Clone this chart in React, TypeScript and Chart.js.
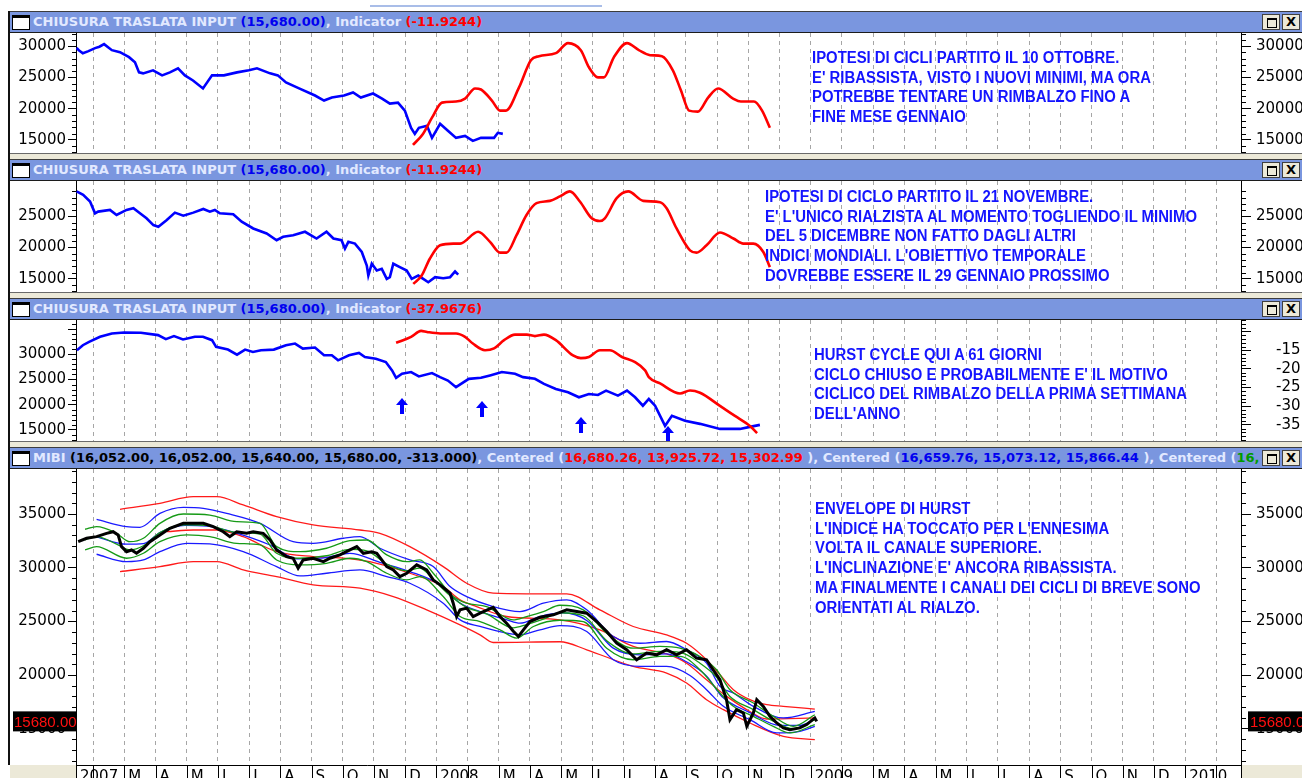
import React, { useEffect, useRef } from 'react';
import { Chart, registerables } from 'chart.js';

Chart.register(...registerables);

// ---------------- x axis: months since January 2007 ----------------
const X_MIN = 0.45;
const X_MAX = 37.79;
const MONTH_TICKS = [1, 2, 3, 4, 5, 6, 7, 8, 9, 10, 11, 12, 13, 14, 15, 16, 17, 18, 19, 20, 21, 22, 23, 24, 25, 26, 27, 28, 29, 30, 31, 32, 33, 34, 35, 36, 37];
const MONTH_LETTERS = ['', '', 'M', 'A', 'M', 'J', 'J', 'A', 'S', 'O', 'N', 'D'];
const YEAR_LABELS = ['2007', '2008', '2009', '2010'];

// ---------------- panel 1 ----------------
const P1_BLUE: [number, number][] = [[0.47, 29700], [0.54, 29350], [0.67, 28870], [0.85, 29200], [1.06, 29680], [1.2, 29900], [1.35, 30320], [1.6, 29350], [1.86, 29030], [2.15, 28230], [2.34, 27420], [2.47, 25800], [2.6, 25640], [2.92, 26130], [3.21, 25320], [3.46, 25800], [3.72, 26450], [3.94, 25320], [4.2, 24500], [4.52, 23230], [4.81, 25320], [5.19, 25320], [5.61, 25800], [5.99, 26130], [6.25, 26450], [6.67, 25640], [6.92, 25320], [7.18, 24190], [7.6, 23230], [8.11, 22100], [8.4, 21290], [8.65, 21770], [9.04, 22100], [9.33, 22580], [9.58, 21770], [9.97, 22420], [10.26, 21610], [10.51, 20800], [10.77, 20960], [10.99, 19680], [11.19, 16930], [11.31, 15960], [11.44, 16930], [11.7, 17260], [11.86, 15320], [12.12, 17580], [12.37, 16450], [12.63, 15320], [12.92, 15640], [13.17, 14840], [13.43, 15320], [13.85, 15320], [13.97, 16130], [14.13, 15960]];
const P1_RED: [number, number][] = [[11.25, 14190], [11.57, 15960], [11.86, 18550], [12.18, 20960], [12.63, 21130], [12.92, 21610], [13.24, 23230], [13.43, 23060], [13.78, 21290], [14.04, 19680], [14.23, 19680], [14.65, 23390], [15.03, 27740], [15.29, 28390], [15.83, 28870], [16.22, 30480], [16.63, 29350], [16.89, 26610], [17.18, 25000], [17.37, 25000], [17.69, 28230], [18.11, 30480], [18.49, 29350], [18.85, 28550], [19.23, 28390], [19.58, 26130], [19.84, 22900], [20.1, 19680], [20.38, 19520], [20.71, 21770], [21.03, 23230], [21.51, 21610], [21.76, 21130], [22.18, 21130], [22.44, 19680], [22.69, 16930]];
const P1_Y_TICKS = [15000, 20000, 25000, 30000];

// ---------------- panel 2 ----------------
const P2_BLUE: [number, number][] = [[0.47, 28980], [0.68, 28440], [0.9, 27370], [1.06, 25480], [1.16, 25750], [1.54, 26020], [1.75, 25210], [2.07, 26020], [2.29, 26290], [2.5, 25480], [2.71, 24680], [2.93, 23600], [3.09, 23340], [3.36, 24400], [3.62, 25590], [3.89, 25110], [4.21, 25590], [4.53, 26180], [4.74, 25750], [4.9, 26020], [5.06, 25480], [5.49, 25320], [5.76, 24140], [6.13, 23060], [6.56, 22250], [6.88, 21180], [7.09, 21720], [7.41, 21980], [7.79, 22530], [8.16, 21450], [8.48, 22530], [8.7, 21450], [8.96, 21180], [9.07, 19840], [9.18, 20920], [9.39, 20640], [9.61, 19300], [9.77, 17140], [9.82, 15530], [9.93, 17420], [10.09, 16340], [10.25, 16610], [10.41, 15000], [10.51, 15270], [10.62, 17420], [10.83, 16880], [11.05, 16340], [11.21, 15000], [11.42, 15530], [11.58, 15000], [11.74, 14460], [11.96, 15270], [12.22, 15110], [12.44, 15270], [12.6, 16180], [12.7, 15690]];
const P2_RED: [number, number][] = [[11.26, 14190], [11.53, 15530], [11.79, 18220], [12.12, 20370], [12.54, 20640], [12.76, 20640], [13.34, 22530], [13.72, 20920], [14.04, 19190], [14.25, 19190], [14.57, 21980], [14.89, 25210], [15.21, 27100], [15.64, 27470], [15.96, 28180], [16.28, 28980], [16.6, 27370], [16.98, 24680], [17.24, 24240], [17.4, 24680], [17.78, 27900], [18.15, 28980], [18.63, 27470], [19.17, 27260], [19.38, 26290], [19.7, 23060], [20.13, 19560], [20.34, 19190], [20.66, 20370], [21.09, 22420], [21.52, 21450], [21.84, 20640], [22.16, 20640], [22.48, 19300], [22.69, 16880]];
const P2_Y_TICKS = [15000, 20000, 25000];

// ---------------- panel 3 ----------------
const P3_BLUE: [number, number][] = [[0.48, 30800], [0.67, 31800], [0.87, 32460], [1.22, 33460], [1.6, 34130], [1.99, 34330], [2.53, 34270], [3.08, 33800], [3.33, 33000], [3.59, 33600], [3.88, 32930], [4.26, 33470], [4.52, 33470], [4.81, 32800], [4.94, 31470], [5.32, 30930], [5.61, 29930], [5.87, 30930], [6.12, 30470], [6.38, 30800], [6.79, 30930], [7.18, 31800], [7.47, 32130], [7.72, 31130], [8.11, 31330], [8.4, 29800], [8.65, 29800], [8.85, 28800], [9.2, 29800], [9.52, 30270], [9.71, 29470], [10.06, 29130], [10.38, 28470], [10.58, 26800], [10.71, 25330], [10.9, 26130], [11.19, 26470], [11.44, 25600], [11.86, 26270], [12.12, 25470], [12.37, 24800], [12.63, 23470], [13.04, 25130], [13.43, 25330], [13.72, 25800], [14.1, 26470], [14.52, 26130], [14.78, 25470], [15.16, 25130], [15.45, 24130], [15.83, 23130], [16.22, 22470], [16.57, 21470], [16.89, 22130], [17.18, 21930], [17.44, 22800], [17.82, 21800], [18.11, 22800], [18.37, 21470], [18.62, 19800], [18.81, 21130], [19.01, 19800], [19.33, 15800], [19.55, 17800], [19.97, 16800], [20.45, 16200], [21.09, 15200], [21.73, 15200], [22.05, 15600], [22.37, 16000]];
const P3_RED: [number, number][] = [[10.71, -13.0], [11.19, -11.4], [11.51, -9.8], [11.7, -10.1], [12.12, -10.5], [12.63, -10.5], [12.92, -11.4], [13.17, -13.2], [13.56, -15.0], [13.85, -14.5], [14.17, -12.3], [14.52, -10.8], [14.9, -10.8], [15.16, -11.2], [15.45, -10.8], [15.83, -12.3], [16.38, -16.4], [16.63, -17.1], [16.89, -16.8], [17.24, -15.0], [17.56, -15.0], [17.95, -16.8], [18.37, -18.2], [18.69, -20.4], [18.81, -22.2], [19.17, -23.9], [19.81, -26.6], [20.13, -25.8], [20.45, -26.4], [21.09, -29.9], [21.57, -32.6], [22.05, -35.3], [22.28, -37.2]];
const P3_ARROWS: [number, number][] = [[10.9, 21400], [13.46, 20800], [16.63, 17600], [19.42, 15800]];
const P3_Y_TICKS = [15000, 20000, 25000, 30000, 35000];
const P3_Y_LABELS = [15000, 20000, 25000, 30000];
const P3_IND_TICKS = [-35, -30, -25, -20, -15, -10];
const P3_IND_LABELS = [-35, -30, -25, -20, -15];

// ---------------- panel 4 (MIBI + Hurst envelopes) ----------------
const P4_PRICE: [number, number][] = [[0.52, 32420], [0.79, 32740], [1.11, 32890], [1.43, 33200], [1.64, 33350], [1.8, 33050], [1.91, 31960], [2.07, 31490], [2.23, 31650], [2.39, 31340], [2.61, 31810], [2.82, 32420], [3.14, 33050], [3.46, 33670], [3.89, 34130], [4.21, 34130], [4.53, 34130], [4.85, 33820], [5.17, 33350], [5.38, 32890], [5.6, 33350], [5.92, 33200], [6.13, 33350], [6.45, 33200], [6.67, 32580], [6.88, 31650], [7.2, 31030], [7.41, 30880], [7.57, 29950], [7.73, 30720], [8.05, 30880], [8.38, 30560], [8.59, 30880], [8.91, 31190], [9.23, 31650], [9.45, 31960], [9.66, 31340], [9.93, 31490], [10.09, 31340], [10.25, 30720], [10.41, 30100], [10.62, 29790], [10.83, 29170], [11.05, 29480], [11.37, 30260], [11.69, 29790], [11.9, 28860], [12.12, 28400], [12.44, 27620], [12.54, 26690], [12.65, 25450], [12.76, 26070], [12.97, 26230], [13.18, 25450], [13.4, 25760], [13.82, 26300], [14.04, 25450], [14.25, 24830], [14.46, 24100], [14.63, 23590], [14.79, 24210], [15.0, 24980], [15.32, 25380], [15.75, 25610], [16.18, 26070], [16.5, 25910], [16.82, 25760], [17.14, 24980], [17.46, 24050], [17.78, 22960], [18.1, 22350], [18.42, 21420], [18.74, 22040], [19.06, 21880], [19.38, 22350], [19.7, 21880], [20.02, 22350], [20.34, 21580], [20.66, 21420], [20.87, 20490], [21.09, 19560], [21.3, 17700], [21.41, 15840], [21.62, 16770], [21.84, 16460], [21.95, 15220], [22.16, 16460], [22.27, 17700], [22.48, 17080], [22.69, 16150], [22.91, 15530], [23.12, 15070], [23.33, 14910], [23.65, 15070], [23.87, 15380], [24.13, 16000], [24.19, 15680]];
const P4_RED_UP: [number, number][] = [[1.86, 35440], [3.14, 35990], [4.21, 36610], [4.96, 36610], [5.81, 35840], [6.88, 34750], [8.05, 33980], [9.55, 33510], [10.19, 33200], [11.15, 31960], [12.22, 30100], [12.97, 28550], [13.82, 27620], [14.89, 27560], [16.18, 27560], [17.24, 26070], [18.31, 24520], [19.38, 23740], [20.02, 22960], [20.66, 21420], [21.09, 20020], [21.52, 18630], [22.05, 17700], [22.59, 17230], [23.12, 17080], [24.13, 16830]];
const P4_RED_MID: [number, number][] = [[3.36, 33350], [4.21, 33510], [4.96, 33510], [5.81, 32890], [6.88, 31490], [8.05, 31030], [9.02, 30880], [10.09, 30410], [11.15, 29480], [12.22, 28240], [12.76, 27000], [13.29, 26380], [14.25, 25450], [15.96, 25140], [17.24, 24200], [18.31, 22660], [19.38, 21960], [20.02, 21100], [20.66, 19560], [21.2, 18240], [22.05, 16600], [22.59, 15900], [24.13, 16000]];
const P4_RED_LOW: [number, number][] = [[1.86, 29630], [3.14, 30100], [4.21, 30560], [4.96, 30560], [5.81, 29790], [6.88, 29170], [8.05, 28400], [9.55, 28090], [10.62, 27310], [11.69, 26070], [12.76, 24670], [13.4, 23740], [13.82, 23030], [15.96, 23100], [16.82, 22350], [18.31, 20800], [19.38, 20180], [20.02, 19250], [20.66, 17700], [21.2, 16770], [22.05, 15530], [23.12, 14290], [24.13, 13980]];
const P4_BLUE_UP: [number, number][] = [[1.11, 34500], [2.07, 33820], [2.5, 33760], [3.14, 35060], [3.89, 35620], [4.53, 35530], [5.28, 35060], [6.35, 34130], [7.41, 32420], [8.05, 32270], [9.02, 32740], [9.55, 32890], [10.19, 31810], [11.15, 30720], [11.9, 30100], [12.44, 28240], [12.97, 27310], [13.82, 26380], [14.68, 25910], [15.43, 26690], [16.18, 27000], [16.82, 26070], [17.67, 23590], [18.53, 22960], [19.38, 23120], [20.02, 22350], [20.66, 21110], [21.09, 18940], [21.52, 18320], [22.16, 17080], [23.12, 16000], [24.13, 16610]];
const P4_BLUE_MID: [number, number][] = [[1.11, 32880], [2.07, 32190], [2.61, 32240], [3.14, 33280], [3.94, 33950], [4.65, 33870], [5.54, 33270], [6.67, 32110], [7.53, 30830], [8.27, 30880], [9.23, 31340], [10.19, 30490], [11.15, 29640], [12.12, 28400], [12.76, 26700], [13.4, 25900], [14.26, 25140], [14.68, 24830], [15.32, 25450], [16.06, 25800], [16.83, 25060], [17.67, 22500], [18.53, 21880], [19.38, 21960], [20.06, 21160], [20.67, 19870], [21.15, 18000], [22.05, 16500], [23.01, 15300], [23.65, 15300], [24.13, 15900]];
const P4_BLUE_LOW: [number, number][] = [[1.11, 31250], [2.07, 30560], [2.61, 30720], [3.14, 31490], [4.0, 32270], [4.74, 32210], [5.81, 31490], [6.88, 30100], [7.63, 29230], [8.48, 29480], [9.55, 29790], [10.41, 29170], [11.15, 28550], [12.22, 26690], [12.76, 25140], [13.4, 24520], [14.25, 23900], [14.68, 23740], [15.32, 24210], [15.96, 24600], [16.82, 24050], [17.67, 21420], [18.53, 20800], [19.38, 20800], [20.13, 19960], [20.66, 18630], [21.2, 17080], [22.05, 15840], [22.91, 14600], [23.65, 14750], [24.13, 15220]];
const P4_GREEN_UP: [number, number][] = [[0.74, 33580], [1.11, 33820], [1.75, 33200], [2.18, 32420], [2.61, 32740], [3.14, 34130], [3.89, 35000], [4.74, 34900], [5.6, 34290], [6.35, 34130], [6.88, 31960], [7.63, 31490], [8.48, 31810], [9.23, 32520], [9.77, 32580], [10.41, 31190], [11.05, 30560], [11.47, 30720], [11.9, 29480], [12.54, 27310], [12.97, 26690], [13.61, 26380], [14.46, 25140], [14.89, 25450], [15.43, 25910], [15.96, 26500], [16.71, 26070], [17.46, 23900], [18.31, 22500], [19.17, 22660], [19.81, 22500], [20.45, 21730], [20.98, 20490], [21.41, 18630], [22.16, 17390], [22.8, 16150], [23.44, 15220], [24.13, 16300]];
const P4_GREEN_MID: [number, number][] = [[0.74, 32600], [1.11, 32890], [1.75, 32200], [2.18, 31650], [2.61, 32040], [3.14, 33280], [3.94, 34000], [4.74, 33900], [5.6, 33280], [6.35, 33120], [6.88, 31340], [7.63, 30880], [8.48, 31110], [9.23, 31700], [9.77, 31570], [10.41, 30340], [11.05, 29710], [11.47, 29950], [11.9, 28900], [12.44, 27400], [12.97, 26300], [13.61, 25700], [14.46, 24400], [14.89, 24700], [15.43, 25200], [15.96, 25800], [16.71, 25520], [17.46, 23200], [18.31, 21960], [19.17, 22200], [19.81, 22100], [20.45, 21100], [20.98, 19800], [21.41, 18000], [22.16, 16770], [22.8, 15700], [23.44, 15000], [24.13, 15840]];
const P4_GREEN_LOW: [number, number][] = [[0.74, 31650], [1.11, 31960], [2.07, 30880], [2.61, 31340], [3.14, 32420], [4.0, 33050], [4.74, 32890], [5.6, 32270], [6.35, 32120], [6.88, 30720], [7.63, 30260], [8.48, 30410], [9.23, 30880], [9.77, 30560], [10.41, 29480], [11.05, 28860], [11.47, 29170], [12.22, 27310], [12.76, 25450], [13.4, 24980], [14.04, 24210], [14.57, 23440], [15.11, 24520], [15.96, 25100], [16.71, 24980], [17.46, 22500], [18.31, 21420], [19.17, 21730], [19.81, 21730], [20.45, 20490], [21.09, 18320], [21.52, 17080], [22.16, 16150], [22.8, 15220], [23.33, 14600], [24.13, 15380]];
const P4_LAST_CLOSE = 15680;
const P4_Y_TICKS = [15000, 20000, 25000, 30000, 35000];

// ---------------- texts ----------------
const LIGHT = '#e2e9ff';
const TBLUE = '#0000f0';
const TRED = '#ff0000';
const TBLACK = '#000000';
const TGREEN = '#009a00';
const P1_TITLE: [string, string][] = [['CHIUSURA TRASLATA INPUT ', LIGHT], ['(15,680.00)', TBLUE], [', Indicator ', LIGHT], ['(-11.9244)', TRED]];
const P2_TITLE: [string, string][] = [['CHIUSURA TRASLATA INPUT ', LIGHT], ['(15,680.00)', TBLUE], [', Indicator ', LIGHT], ['(-11.9244)', TRED]];
const P3_TITLE: [string, string][] = [['CHIUSURA TRASLATA INPUT ', LIGHT], ['(15,680.00)', TBLUE], [', Indicator ', LIGHT], ['(-37.9676)', TRED]];
const P4_TITLE: [string, string][] = [['MIBI ', LIGHT], ['(16,052.00, 16,052.00, 15,640.00, 15,680.00, -313.000)', TBLACK], [', Centered (', LIGHT], ['16,680.26, 13,925.72, 15,302.99', TRED], [' ), Centered (', LIGHT], ['16,659.76, 15,073.12, 15,866.44', TBLUE], [' ), Centered (', LIGHT], ['16,203', TGREEN]];

const NOTE_1 = ['IPOTESI DI CICLI PARTITO IL 10 OTTOBRE.', "E' RIBASSISTA, VISTO I NUOVI MINIMI, MA ORA", 'POTREBBE TENTARE UN RIMBALZO FINO A', 'FINE MESE GENNAIO'];
const NOTE_2 = ['IPOTESI DI CICLO PARTITO IL 21 NOVEMBRE.', "E' L'UNICO RIALZISTA AL MOMENTO TOGLIENDO IL MINIMO", 'DEL 5 DICEMBRE NON FATTO DAGLI ALTRI', "INDICI MONDIALI. L'OBIETTIVO TEMPORALE", 'DOVREBBE ESSERE IL 29 GENNAIO PROSSIMO'];
const NOTE_3 = ['HURST CYCLE QUI A 61 GIORNI', "CICLO CHIUSO E PROBABILMENTE E' IL MOTIVO", 'CICLICO DEL RIMBALZO DELLA PRIMA SETTIMANA', "DELL'ANNO"];
const NOTE_4 = ['ENVELOPE DI HURST', "L'INDICE HA TOCCATO PER L'ENNESIMA", 'VOLTA IL CANALE SUPERIORE.', "L'INCLINAZIONE E' ANCORA RIBASSISTA.", 'MA FINALMENTE I CANALI DEI CICLI DI BREVE SONO', 'ORIENTATI AL RIALZO.'];

// ---------------- helpers ----------------
const AXIS_FONT = { family: '"DejaVu Sans", sans-serif', size: 15 };
const xy = (a: [number, number][]) => a.map(([x, y]) => ({ x, y }));

function monthLabel(v: number): string {
  if (Math.abs(v - X_MIN) < 1e-6) return YEAR_LABELS[0];
  const m = Math.round(v);
  if (m % 12 === 0) return YEAR_LABELS[m / 12] || '';
  return MONTH_LETTERS[m % 12];
}

function xScale(showLabels: boolean, height: number) {
  return {
    type: 'linear',
    min: X_MIN,
    max: X_MAX,
    bounds: 'data',
    afterBuildTicks: (s: any) => {
      s.ticks = [X_MIN, ...MONTH_TICKS].map((v) => ({ value: v }));
    },
    afterFit: (s: any) => {
      s.height = height;
      s.paddingLeft = 0;
      s.paddingRight = 0;
    },
    ticks: {
      display: showLabels,
      autoSkip: false,
      maxRotation: 0,
      minRotation: 0,
      align: 'start',
      labelOffset: 4,
      padding: 3,
      color: '#000',
      font: AXIS_FONT,
      callback: (v: number) => monthLabel(v),
    },
    grid: {
      drawOnChartArea: true,
      drawTicks: false,
      lineWidth: 1,
      color: (c: any) => (c.tick && Math.abs(c.tick.value - X_MIN) < 1e-6 ? 'rgba(0,0,0,0)' : '#a6a6a6'),
    },
    border: { display: false, dash: [4, 4] },
  };
}

function yScale(position: string, min: number, max: number, ticks: number[], labels: number[], width: number, padding: number, tickLen: number) {
  return {
    type: 'linear',
    position,
    min,
    max,
    bounds: 'data',
    afterBuildTicks: (s: any) => {
      s.ticks = ticks.map((v) => ({ value: v }));
    },
    afterFit: (s: any) => {
      s.width = width;
      s.paddingTop = 0;
      s.paddingBottom = 0;
    },
    ticks: {
      autoSkip: false,
      padding,
      color: '#000',
      font: AXIS_FONT,
      callback: (v: number) => (labels.includes(v) ? String(v) : ''),
    },
    grid: { drawOnChartArea: false, drawTicks: true, tickLength: tickLen, tickColor: '#000', tickWidth: 1 },
    border: { display: true, color: '#000', width: 1 },
  };
}

const decoPlugin = {
  id: 'deco',
  afterDraw(chart: any, _args: any, opts: any) {
    const ctx = chart.ctx;
    const ca = chart.chartArea;
    const W = chart.width;
    const H = chart.height;
    // minor ticks on the y axes
    (opts.minor || []).forEach((m: any) => {
      const s = chart.scales[m.axis];
      ctx.save();
      ctx.strokeStyle = '#000';
      ctx.lineWidth = 1;
      ctx.beginPath();
      for (let v = Math.ceil(s.min / m.step) * m.step; v <= s.max + 1e-9; v += m.step) {
        const r = v / m.major;
        if (Math.abs(r - Math.round(r)) < 1e-6) continue;
        const y = Math.round(s.getPixelForValue(v)) + 0.5;
        if (s.position === 'left') {
          ctx.moveTo(s.right - m.len, y);
          ctx.lineTo(s.right, y);
        } else {
          ctx.moveTo(s.left, y);
          ctx.lineTo(s.left + m.len, y);
        }
      }
      ctx.stroke();
      ctx.restore();
    });
    // arrows (tip at the data point)
    if (opts.arrows) {
      const xs = chart.scales.x;
      const ys = chart.scales.y;
      ctx.save();
      ctx.beginPath();
      ctx.rect(ca.left, ca.top, ca.right - ca.left, ca.bottom - ca.top);
      ctx.clip();
      ctx.fillStyle = '#0000ff';
      opts.arrows.forEach(([mx, v]: [number, number]) => {
        const x = Math.round(xs.getPixelForValue(mx));
        const y = Math.round(ys.getPixelForValue(v));
        ctx.beginPath();
        ctx.moveTo(x, y);
        ctx.lineTo(x - 6, y + 7);
        ctx.lineTo(x + 6, y + 7);
        ctx.closePath();
        ctx.fill();
        ctx.fillRect(x - 2, y + 6, 4, 10);
      });
      ctx.restore();
    }
    // x axis row
    if (opts.xRow) {
      const xs = chart.scales.x;
      ctx.save();
      ctx.fillStyle = '#ece9d8';
      ctx.fillRect(0, ca.bottom, ca.left, H - ca.bottom);
      ctx.fillRect(ca.right, ca.bottom, W - ca.right, H - ca.bottom);
      ctx.strokeStyle = '#000';
      ctx.lineWidth = 1;
      ctx.beginPath();
      ctx.moveTo(ca.left, Math.round(ca.bottom) + 0.5);
      ctx.lineTo(ca.right, Math.round(ca.bottom) + 0.5);
      xs.ticks.forEach((t: any) => {
        const x = Math.round(xs.getPixelForValue(t.value)) + 0.5;
        ctx.moveTo(x, ca.bottom);
        ctx.lineTo(x, H);
      });
      ctx.moveTo(Math.round(ca.right) + 0.5, ca.top);
      ctx.lineTo(Math.round(ca.right) + 0.5, H);
      ctx.stroke();
      ctx.restore();
    }
    // last value boxes
    if (opts.valueBox !== undefined) {
      const ys = chart.scales.y;
      const y = ys.getPixelForValue(opts.valueBox);
      const txt = opts.valueBox.toFixed(2);
      ctx.save();
      ctx.fillStyle = '#000';
      ctx.fillRect(3, y - 10, 63, 20);
      ctx.fillRect(ca.right + 7, y - 10, W - ca.right - 7, 20);
      ctx.fillStyle = '#ff1010';
      ctx.font = '15px "Liberation Sans", Arial, sans-serif';
      ctx.textBaseline = 'middle';
      ctx.textAlign = 'left';
      ctx.fillText(txt, 4, y + 1);
      ctx.fillText(txt, ca.right + 9, y + 1);
      ctx.restore();
    }
  },
};

function line(data: [number, number][], color: string, width: number, smooth: boolean, yAxisID = 'y') {
  return {
    data: xy(data),
    borderColor: color,
    borderWidth: width,
    pointRadius: 0,
    fill: false,
    yAxisID,
    cubicInterpolationMode: smooth ? 'monotone' : 'default',
    tension: 0,
  };
}

function baseConfig(datasets: any[], scales: any, deco: any) {
  return {
    type: 'line',
    data: { datasets },
    options: {
      animation: false,
      responsive: false,
      maintainAspectRatio: false,
      events: [],
      layout: { padding: 0 },
      plugins: { legend: { display: false }, tooltip: { enabled: false }, deco },
      scales,
    },
    plugins: [decoPlugin],
  };
}

const CANVAS_W = 1292;

function config1() {
  return baseConfig(
    [line(P1_RED, '#ff0000', 2.6, true), line(P1_BLUE, '#0000ff', 2.6, false)],
    {
      x: xScale(false, 0),
      y: yScale('left', 12903, 32097, P1_Y_TICKS, P1_Y_TICKS, 66, 2, 8),
      yr: yScale('right', 12903, 32097, P1_Y_TICKS, P1_Y_TICKS, 61, 5, 10),
    },
    { minor: [{ axis: 'y', step: 1000, major: 5000, len: 4 }, { axis: 'yr', step: 1000, major: 5000, len: 5 }] }
  );
}

function config2() {
  return baseConfig(
    [line(P2_RED, '#ff0000', 2.6, true), line(P2_BLUE, '#0000ff', 2.6, false)],
    {
      x: xScale(false, 0),
      y: yScale('left', 12903, 30645, P2_Y_TICKS, P2_Y_TICKS, 66, 2, 8),
      yr: yScale('right', 12903, 30645, P2_Y_TICKS, P2_Y_TICKS, 61, 5, 10),
    },
    { minor: [{ axis: 'y', step: 1000, major: 5000, len: 4 }, { axis: 'yr', step: 1000, major: 5000, len: 5 }] }
  );
}

function config3() {
  return baseConfig(
    [line(P3_RED, '#ff0000', 2.6, true, 'yr'), line(P3_BLUE, '#0000ff', 2.6, false)],
    {
      x: xScale(false, 0),
      y: yScale('left', 12800, 36800, P3_Y_TICKS, P3_Y_LABELS, 66, 2, 8),
      yr: yScale('right', -39.32, -6.89, P3_IND_TICKS, P3_IND_LABELS, 61, 25, 10),
    },
    {
      minor: [{ axis: 'y', step: 1000, major: 5000, len: 4 }, { axis: 'yr', step: 1, major: 5, len: 5 }],
      arrows: P3_ARROWS,
    }
  );
}

function config4() {
  return baseConfig(
    [
      line(P4_PRICE, '#000000', 3, false),
      line(P4_GREEN_UP, '#169a16', 1.3, true),
      line(P4_GREEN_MID, '#169a16', 1.3, true),
      line(P4_GREEN_LOW, '#169a16', 1.3, true),
      line(P4_BLUE_UP, '#1a1aff', 1.3, true),
      line(P4_BLUE_MID, '#1a1aff', 1.3, true),
      line(P4_BLUE_LOW, '#1a1aff', 1.3, true),
      line(P4_RED_UP, '#ff1a1a', 1.3, true),
      line(P4_RED_MID, '#ff1a1a', 1.3, true),
      line(P4_RED_LOW, '#ff1a1a', 1.3, true),
    ],
    {
      x: xScale(true, 35),
      y: yScale('left', 11615, 39193, P4_Y_TICKS, P4_Y_TICKS, 66, 2, 8),
      yr: yScale('right', 11615, 39193, P4_Y_TICKS, P4_Y_TICKS, 61, 5, 10),
    },
    {
      minor: [{ axis: 'y', step: 1000, major: 5000, len: 4 }, { axis: 'yr', step: 1000, major: 5000, len: 5 }],
      xRow: true,
      valueBox: P4_LAST_CLOSE,
    }
  );
}

function ChartCanvas({ top, height, make }: { top: number; height: number; make: () => any }) {
  const ref = useRef<HTMLCanvasElement | null>(null);
  useEffect(() => {
    const chart = new Chart(ref.current as HTMLCanvasElement, make() as any);
    return () => chart.destroy();
  }, []);
  return (
    <canvas
      ref={ref}
      width={CANVAS_W}
      height={height}
      style={{ position: 'absolute', left: 10, top, width: CANVAS_W, height, background: '#fff', display: 'block' }}
    />
  );
}

function TitleBar({ top, parts }: { top: number; parts: [string, string][] }) {
  return (
    <div
      style={{
        position: 'absolute',
        left: 10,
        top,
        width: 1292,
        height: 22,
        boxSizing: 'border-box',
        background: '#7a96df',
        borderTop: '1px solid #3c3c3c',
        borderBottom: '1px solid #1c1c1c',
      }}
    >
      <div
        style={{
          position: 'absolute',
          left: 2,
          top: 3,
          width: 16,
          height: 11,
          background: '#fff',
          border: '1px solid #000',
          borderTop: '3px solid #000',
        }}
      />
      <div
        style={{
          position: 'absolute',
          left: 23,
          top: 0,
          width: 1227,
          height: 20,
          overflow: 'hidden',
          whiteSpace: 'pre',
          font: 'bold 13px "DejaVu Sans", sans-serif',
          lineHeight: '20px',
        }}
      >
        {parts.map(([t, c], i) => (
          <span key={i} style={{ color: c }}>
            {t}
          </span>
        ))}
      </div>
      <div
        style={{
          position: 'absolute',
          left: 1252,
          top: 2,
          width: 18,
          height: 16,
          boxSizing: 'border-box',
          background: '#ece9d8',
          border: '1px solid #404040',
        }}
      >
        <div style={{ position: 'absolute', left: 4, top: 3, width: 8, height: 7, border: '1px solid #000', borderTop: '2px solid #000' }} />
      </div>
      <div
        style={{
          position: 'absolute',
          left: 1272,
          top: 2,
          width: 18,
          height: 16,
          boxSizing: 'border-box',
          background: '#ece9d8',
          border: '1px solid #404040',
          font: 'bold 13px "DejaVu Sans", sans-serif',
          lineHeight: '14px',
          textAlign: 'center',
          color: '#000',
        }}
      >
        X
      </div>
    </div>
  );
}

function Note({ left, top, lines }: { left: number; top: number; lines: string[] }) {
  return (
    <div
      style={{
        position: 'absolute',
        left,
        top,
        color: '#1414ff',
        font: 'bold 16px "Liberation Sans", Arial, sans-serif',
        lineHeight: '19.7px',
        whiteSpace: 'pre',
        transform: 'scaleX(0.93)',
        transformOrigin: 'left top',
        zIndex: 2,
      }}
    >
      {lines.join('\n')}
    </div>
  );
}

function Gap({ top, height }: { top: number; height: number }) {
  return <div style={{ position: 'absolute', left: 10, top, width: 1292, height, background: '#ece9d8', borderTop: '1px solid #6a6a6a', boxSizing: 'border-box' }} />;
}

export default function App() {
  useEffect(() => {
    document.body.style.margin = '0';
  }, []);
  return (
    <div style={{ position: 'absolute', left: 0, top: 0, width: 1302, height: 778, overflow: 'hidden', background: '#fff' }}>
      <div style={{ position: 'absolute', left: 370, top: 5, width: 232, height: 2, background: '#a9bde8' }} />
      <div style={{ position: 'absolute', left: 8, top: 11, width: 2, height: 754, background: '#111' }} />

      <TitleBar top={11} parts={P1_TITLE} />
      <ChartCanvas top={33} height={120} make={config1} />
      <Gap top={153} height={6} />

      <TitleBar top={159} parts={P2_TITLE} />
      <ChartCanvas top={181} height={111} make={config2} />
      <Gap top={292} height={6} />

      <TitleBar top={298} parts={P3_TITLE} />
      <ChartCanvas top={320} height={121} make={config3} />
      <Gap top={441} height={6} />

      <TitleBar top={447} parts={P4_TITLE} />
      <ChartCanvas top={469} height={331} make={config4} />

      <Note left={812} top={48} lines={NOTE_1} />
      <Note left={765} top={187} lines={NOTE_2} />
      <Note left={814} top={345} lines={NOTE_3} />
      <Note left={815} top={499} lines={NOTE_4} />
    </div>
  );
}
